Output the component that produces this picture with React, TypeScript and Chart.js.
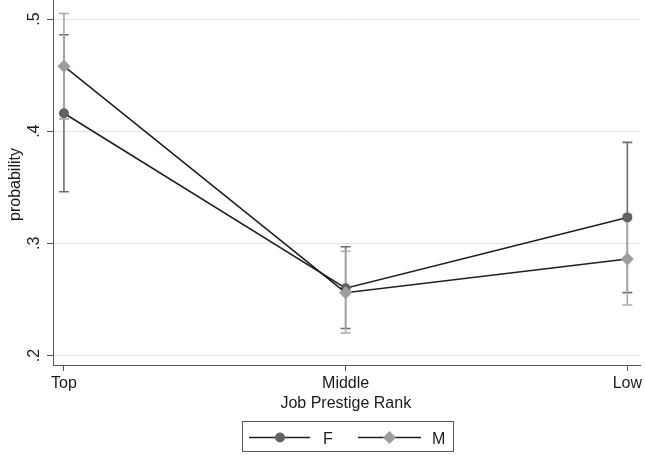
import React, { useEffect, useRef } from 'react';
import { Chart, registerables } from 'chart.js';

Chart.register(...registerables);

const categories = ['Top', 'Middle', 'Low'];
const fValues = [0.416, 0.26, 0.323];
const fLower = [0.346, 0.224, 0.256];
const fUpper = [0.486, 0.297, 0.39];
const mValues = [0.458, 0.256, 0.286];
const mLower = [0.411, 0.22, 0.245];
const mUpper = [0.505, 0.293, 0.326];
const yTicks = [0.2, 0.3, 0.4, 0.5];
const yTickLabels = ['.2', '.3', '.4', '.5'];
const seriesNames = ['F', 'M'];
const xTitle = 'Job Prestige Rank';
const yTitle = 'probability';

const FONT = '"Liberation Sans", Arial, Helvetica, sans-serif';
const TEXT = '#1a1a1a';
const AXIS = '#555555';
const LINE = '#1e1e1e';
const F_COLOR = '#626262';
const M_COLOR = '#9e9e9e';
const F_CI = '#6e6e6e';
const M_CI = '#a8a8a8';

function drawDiamond(ctx: CanvasRenderingContext2D, x: number, y: number, r: number, color: string) {
  ctx.beginPath();
  ctx.moveTo(x, y - r);
  ctx.lineTo(x + r, y);
  ctx.lineTo(x, y + r);
  ctx.lineTo(x - r, y);
  ctx.closePath();
  ctx.fillStyle = color;
  ctx.fill();
}

const customPlugin = {
  id: 'stataDecor',
  beforeDatasetsDraw(chart: any) {
    const ctx: CanvasRenderingContext2D = chart.ctx;
    const xs = chart.scales.x;
    const ys = chart.scales.y;
    const bars = [
      { lo: fLower, hi: fUpper, color: F_CI },
      { lo: mLower, hi: mUpper, color: M_CI },
    ];
    ctx.save();
    bars.forEach((b) => {
      ctx.strokeStyle = b.color;
      ctx.lineWidth = 1.6;
      categories.forEach((_, i) => {
        const px = xs.getPixelForValue(i);
        const y1 = ys.getPixelForValue(b.lo[i]);
        const y2 = ys.getPixelForValue(b.hi[i]);
        ctx.beginPath();
        ctx.moveTo(px, y1);
        ctx.lineTo(px, y2);
        ctx.moveTo(px - 5, y1);
        ctx.lineTo(px + 5, y1);
        ctx.moveTo(px - 5, y2);
        ctx.lineTo(px + 5, y2);
        ctx.stroke();
      });
    });
    ctx.restore();
  },
  afterDraw(chart: any) {
    const ctx: CanvasRenderingContext2D = chart.ctx;
    const ys = chart.scales.y;
    const area = chart.chartArea;
    ctx.save();
    ctx.fillStyle = TEXT;
    ctx.font = `16px ${FONT}`;
    yTicks.forEach((v, i) => {
      ctx.save();
      ctx.translate(39, ys.getPixelForValue(v));
      ctx.rotate(-Math.PI / 2);
      ctx.textAlign = 'center';
      ctx.textBaseline = 'alphabetic';
      ctx.fillText(yTickLabels[i], 0, 0);
      ctx.restore();
    });
    ctx.save();
    ctx.translate(20, 184.5);
    ctx.rotate(-Math.PI / 2);
    ctx.textAlign = 'center';
    ctx.textBaseline = 'alphabetic';
    ctx.fillText(yTitle, 0, 0);
    ctx.restore();
    ctx.textAlign = 'center';
    ctx.textBaseline = 'alphabetic';
    ctx.fillText(xTitle, (area.left + area.right) / 2 - 1, 408);

    ctx.strokeStyle = AXIS;
    ctx.lineWidth = 1;
    ctx.strokeRect(242.5, 421.5, 211, 30);
    const ly = 437.5;
    ctx.strokeStyle = LINE;
    ctx.lineWidth = 1.5;
    ctx.beginPath();
    ctx.moveTo(249, ly);
    ctx.lineTo(310, ly);
    ctx.moveTo(358, ly);
    ctx.lineTo(421, ly);
    ctx.stroke();
    ctx.beginPath();
    ctx.arc(280, ly, 5, 0, Math.PI * 2);
    ctx.fillStyle = F_COLOR;
    ctx.fill();
    drawDiamond(ctx, 389.5, ly, 6.5, M_COLOR);
    ctx.fillStyle = TEXT;
    ctx.textAlign = 'left';
    ctx.fillText(seriesNames[0], 323, 443.5);
    ctx.fillText(seriesNames[1], 432, 443.5);
    ctx.restore();
  },
};

export default function App() {
  const ref = useRef<HTMLCanvasElement | null>(null);

  useEffect(() => {
    document.body.style.margin = '0';
    const canvas = ref.current;
    if (!canvas) return;
    const chart = new Chart(canvas, {
      type: 'line',
      data: {
        datasets: [
          {
            label: seriesNames[0],
            data: categories.map((_, i) => ({ x: i, y: fValues[i] })),
            borderColor: LINE,
            borderWidth: 1.5,
            pointStyle: 'circle',
            pointRadius: 5,
            pointBackgroundColor: F_COLOR,
            pointBorderColor: F_COLOR,
            pointBorderWidth: 0,
            fill: false,
            tension: 0,
            order: 1,
          },
          {
            label: seriesNames[1],
            data: categories.map((_, i) => ({ x: i, y: mValues[i] })),
            borderColor: LINE,
            borderWidth: 1.5,
            pointStyle: 'rectRot',
            pointRadius: 6.5,
            pointBackgroundColor: M_COLOR,
            pointBorderColor: M_COLOR,
            pointBorderWidth: 0,
            fill: false,
            tension: 0,
            order: 0,
          },
        ],
      },
      options: {
        animation: false,
        responsive: false,
        maintainAspectRatio: false,
        layout: { padding: 0, autoPadding: false },
        plugins: {
          legend: { display: false },
          tooltip: { enabled: false },
        },
        scales: {
          x: {
            type: 'linear',
            min: -0.0388,
            max: 2.047,
            afterBuildTicks: (s: any) => {
              s.ticks = categories.map((_, i) => ({ value: i }));
            },
            afterFit: (s: any) => {
              s.height = 90;
            },
            ticks: {
              callback: (v: any) => categories[v as number] ?? '',
              font: { size: 16, family: FONT },
              color: TEXT,
              padding: 3,
              maxRotation: 0,
              minRotation: 0,
              autoSkip: false,
            },
            grid: {
              drawOnChartArea: false,
              drawTicks: true,
              tickLength: 6,
              tickColor: AXIS,
              tickWidth: 1,
            },
            border: { color: AXIS, width: 1 },
          },
          y: {
            type: 'linear',
            min: 0.1915,
            max: 0.517,
            afterBuildTicks: (s: any) => {
              s.ticks = yTicks.map((v) => ({ value: v }));
            },
            afterFit: (s: any) => {
              s.width = 53;
            },
            ticks: { display: false },
            grid: {
              color: '#e4e4e4',
              lineWidth: 1,
              drawTicks: true,
              tickLength: 6,
              tickColor: AXIS,
              tickWidth: 1,
            },
            border: { color: AXIS, width: 1 },
          },
        },
      },
      plugins: [customPlugin],
    } as any);
    return () => chart.destroy();
  }, []);

  return (
    <div style={{ position: 'absolute', left: 0, top: 0, width: 645, height: 455, background: '#fff' }}>
      <canvas ref={ref} width={645} height={455} style={{ display: 'block' }} />
    </div>
  );
}
